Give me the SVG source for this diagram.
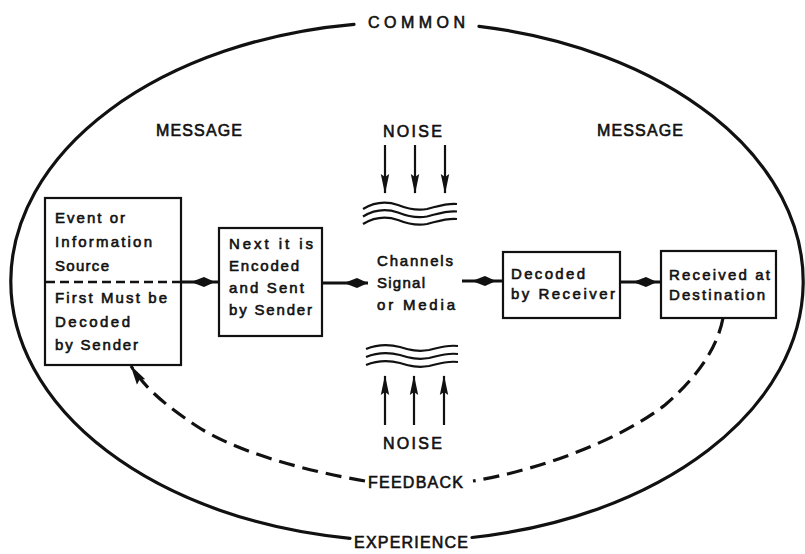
<svg xmlns="http://www.w3.org/2000/svg" width="805" height="554" viewBox="0 0 805 554">
  <style>
    text { font-family: "Liberation Sans", Arial, sans-serif; fill: #111; stroke: #111; stroke-width: 0.6; }
    .box-text { font-size: 15px; }
    .label { font-size: 16px; }
    .box { fill: #fff; stroke: #111; stroke-width: 2.2; }
    .rim { fill: none; stroke: #111; stroke-width: 3.2; stroke-linecap: round; }
    .flow { fill: none; stroke: #111; stroke-width: 3.2; }
    .feedback { fill: none; stroke: #111; stroke-width: 3.2; stroke-dasharray: 16 8; }
    .noise { fill: none; stroke: #111; stroke-width: 2.2; }
    .wave { fill: none; stroke: #111; stroke-width: 2.2; }
    .divider { fill: none; stroke: #111; stroke-width: 2.6; stroke-dasharray: 9 5; }
    .head { fill: #111; }
  </style>
  <defs>
    <!-- slender dart head for the noise arrows -->
    <marker id="dart" markerUnits="userSpaceOnUse" viewBox="0 0 20 10" refX="19" refY="5" markerWidth="20" markerHeight="10" orient="auto">
      <path d="M0,0.8 L20,5 L0,9.2 L3,5 Z" fill="#111"/>
    </marker>
    <!-- heavier wedge closing the feedback loop -->
    <marker id="wedge" markerUnits="userSpaceOnUse" viewBox="0 0 20 11" refX="19" refY="5.5" markerWidth="20" markerHeight="11" orient="auto">
      <path d="M0,0.5 L20,5.5 L0,10.5 L3,5.5 Z" fill="#111"/>
    </marker>
    <!-- spindle-shaped head of the main flow arrows, tip at the origin -->
    <path id="spindle" d="M-24,0 L-11,-5 L0,0 L-11,5 Z"/>
  </defs>

  <!-- outer boundary: common experience -->
  <g id="experience-rim">
    <path class="rim" d="M354,24.3 A396,259.5 0 0 0 350,538.3"/>
    <path class="rim" d="M479,26.3 A396,259.5 0 0 1 472,537.5"/>
    <text class="label" x="368" y="28" textLength="97" lengthAdjust="spacing">COMMON</text>
    <text class="label" x="354" y="548" textLength="114" lengthAdjust="spacing">EXPERIENCE</text>
  </g>

  <g id="message-labels">
    <text class="label" x="156" y="136" textLength="86" lengthAdjust="spacing">MESSAGE</text>
    <text class="label" x="597" y="136" textLength="86" lengthAdjust="spacing">MESSAGE</text>
  </g>

  <!-- source node: event above, sender decoding below -->
  <g id="source">
    <rect class="box" x="45" y="198" width="136" height="167"/>
    <line class="divider" x1="46" y1="282" x2="181" y2="282"/>
    <text class="box-text" x="55" y="223" textLength="70" lengthAdjust="spacing">Event or</text>
    <text class="box-text" x="55" y="247" textLength="97" lengthAdjust="spacing">Information</text>
    <text class="box-text" x="55" y="271" textLength="54" lengthAdjust="spacing">Source</text>
    <text class="box-text" x="55" y="303" textLength="112" lengthAdjust="spacing">First Must be</text>
    <text class="box-text" x="55" y="327" textLength="75" lengthAdjust="spacing">Decoded</text>
    <text class="box-text" x="55" y="350" textLength="83" lengthAdjust="spacing">by Sender</text>
  </g>

  <g id="encoder">
    <rect class="box" x="219" y="228" width="103" height="108"/>
    <text class="box-text" x="229" y="249" textLength="84" lengthAdjust="spacing">Next it is</text>
    <text class="box-text" x="229" y="271" textLength="70" lengthAdjust="spacing">Encoded</text>
    <text class="box-text" x="229" y="293" textLength="75" lengthAdjust="spacing">and Sent</text>
    <text class="box-text" x="229" y="315" textLength="83" lengthAdjust="spacing">by Sender</text>
  </g>

  <g id="channel">
    <text class="box-text" x="377" y="266" textLength="76" lengthAdjust="spacing">Channels</text>
    <text class="box-text" x="377" y="288" textLength="48" lengthAdjust="spacing">Signal</text>
    <text class="box-text" x="377" y="310" textLength="78" lengthAdjust="spacing">or Media</text>
  </g>

  <g id="decoder">
    <rect class="box" x="503" y="252" width="117" height="66"/>
    <text class="box-text" x="511" y="279" textLength="74" lengthAdjust="spacing">Decoded</text>
    <text class="box-text" x="511" y="299" textLength="104" lengthAdjust="spacing">by Receiver</text>
  </g>

  <g id="destination">
    <rect class="box" x="661" y="251" width="115" height="67"/>
    <text class="box-text" x="669" y="280" textLength="101" lengthAdjust="spacing">Received at</text>
    <text class="box-text" x="669" y="300" textLength="96" lengthAdjust="spacing">Destination</text>
  </g>

  <!-- noise entering the channel from above -->
  <g id="noise-top">
    <text class="label" x="383" y="137" textLength="59" lengthAdjust="spacing">NOISE</text>
    <line class="noise" x1="385" y1="145" x2="385" y2="193" marker-end="url(#dart)"/>
    <line class="noise" x1="415" y1="145" x2="415" y2="193" marker-end="url(#dart)"/>
    <line class="noise" x1="445" y1="145" x2="445" y2="193" marker-end="url(#dart)"/>
    <path class="wave" d="M363,209 C373,203 386,201 398,205 C408,209 416,211 427,209 C439,206 447,203 457,204"/>
    <path class="wave" d="M363,216.5 C373,210.5 386,208.5 398,212.5 C408,216.5 416,218.5 427,216.5 C439,213.5 447,210.5 457,211.5"/>
    <path class="wave" d="M363,224 C373,218 386,216 398,220 C408,224 416,226 427,224 C439,221 447,218 457,219"/>
  </g>

  <!-- noise entering the channel from below -->
  <g id="noise-bottom">
    <path class="wave" d="M366,349 C376,345 388,344 400,347 C410,350 418,352 429,350 C441,347 449,345 458,346"/>
    <path class="wave" d="M366,357 C376,353 388,352 400,355 C410,358 418,360 429,358 C441,355 449,353 458,354"/>
    <path class="wave" d="M366,365 C376,361 388,360 400,363 C410,366 418,368 429,366 C441,363 449,361 458,362"/>
    <line class="noise" x1="385" y1="425" x2="385" y2="376" marker-end="url(#dart)"/>
    <line class="noise" x1="414" y1="425" x2="414" y2="376" marker-end="url(#dart)"/>
    <line class="noise" x1="444" y1="425" x2="444" y2="376" marker-end="url(#dart)"/>
    <text class="label" x="383" y="449" textLength="59" lengthAdjust="spacing">NOISE</text>
  </g>

  <!-- message flow and feedback loop -->
  <g id="connectors">
    <line class="flow" x1="181" y1="282" x2="219" y2="282"/>
    <use href="#spindle" class="head" x="215" y="282"/>
    <line class="flow" x1="322" y1="283" x2="368" y2="283"/>
    <use href="#spindle" class="head" x="368" y="283"/>
    <line class="flow" x1="462" y1="281" x2="503" y2="281"/>
    <use href="#spindle" class="head" x="496" y="281"/>
    <line class="flow" x1="620" y1="282" x2="661" y2="282"/>
    <use href="#spindle" class="head" x="657" y="282"/>
    <path class="feedback" d="M723,318 C718,345 700,375 665,405 C620,440 540,470 473,481"/>
    <path class="feedback" d="M365,481 C300,470 232,450 195,425 C165,405 145,388 131,366" marker-end="url(#wedge)"/>
    <text class="label" x="368" y="488" textLength="95" lengthAdjust="spacing">FEEDBACK</text>
  </g>
</svg>
